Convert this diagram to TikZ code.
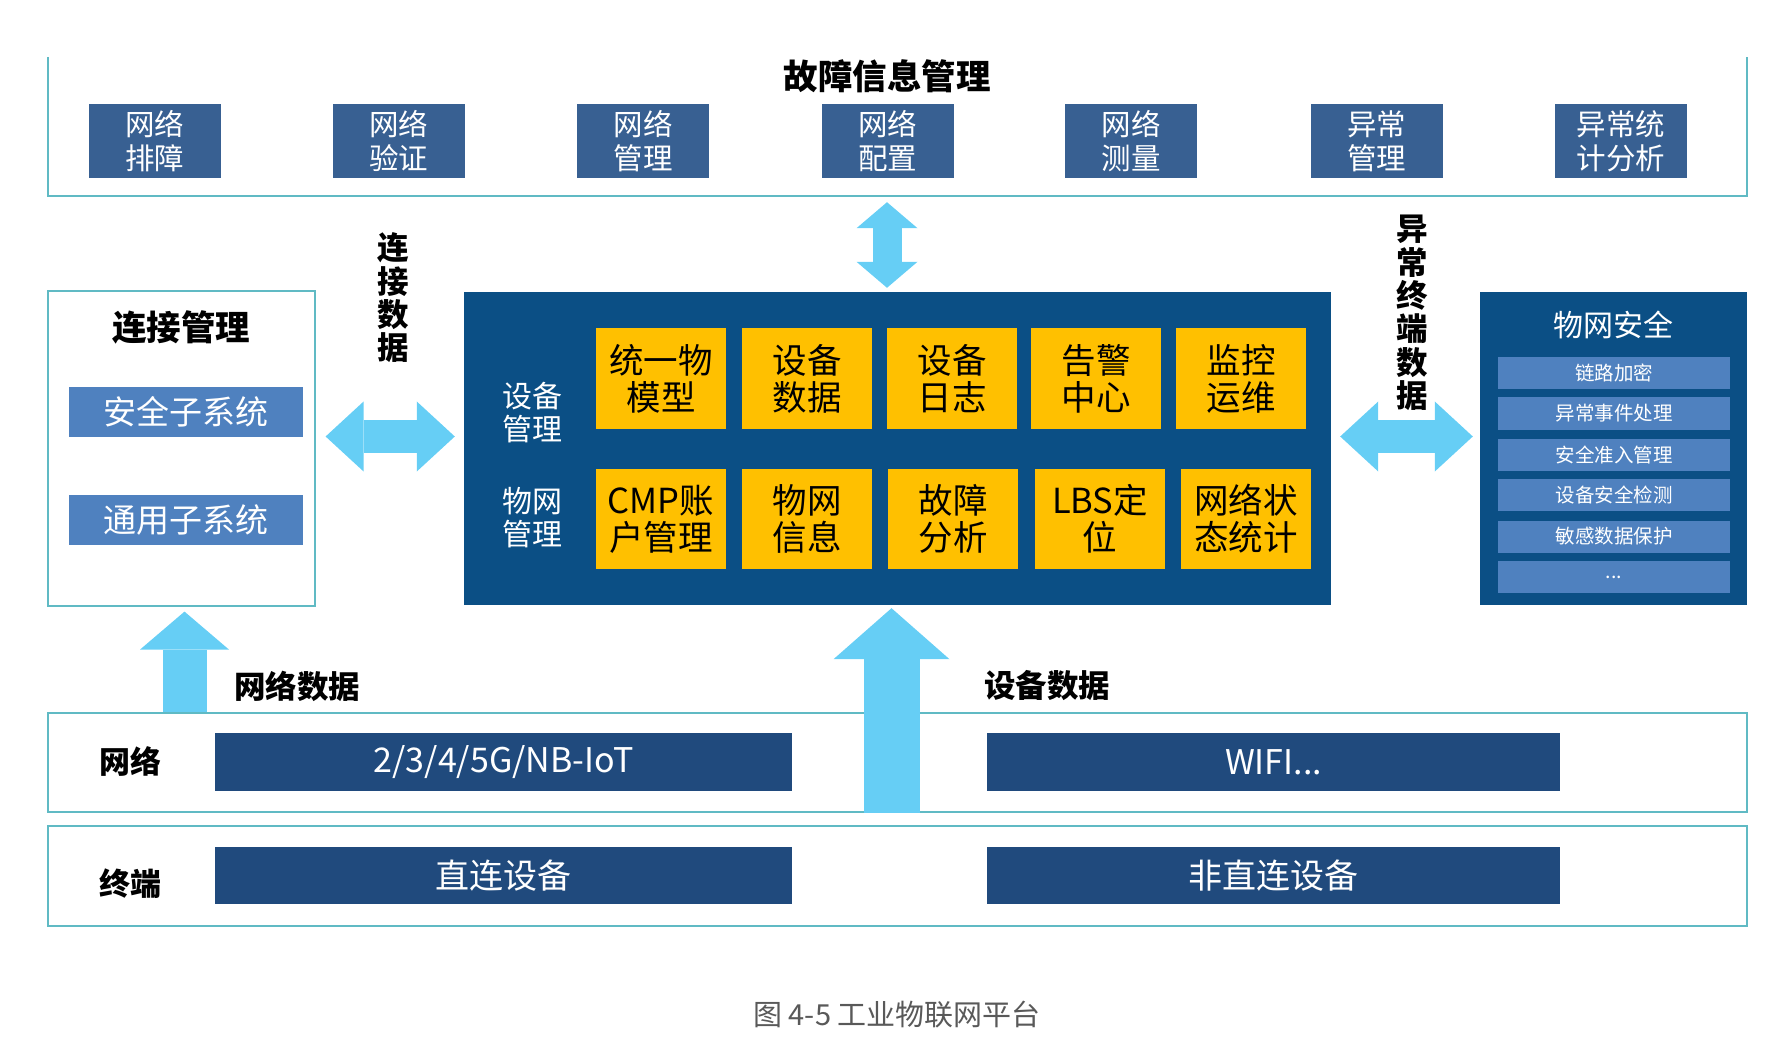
\documentclass[tikz,border=0pt]{standalone}
\usepackage{fontspec}
\setmainfont{Noto Sans CJK SC}
\usepackage{xcolor}
\usepackage{tikz}
\usetikzlibrary{arrows.meta,positioning}

\definecolor{framecyan}{RGB}{96,186,196}
\definecolor{flowblue}{RGB}{102,206,245}
\definecolor{coreblue}{RGB}{11,79,133}
\definecolor{tileblue}{RGB}{56,96,146}
\definecolor{subblue}{RGB}{79,129,191}
\definecolor{barblue}{RGB}{32,74,125}
\definecolor{tileyellow}{RGB}{255,192,0}
\definecolor{captiongray}{RGB}{89,89,89}

\newcommand{\fsz}[2]{\fontsize{#1}{#2}\selectfont}

\begin{document}
\begin{tikzpicture}[x=1pt, y=-1pt,
    frame/.style={draw=framecyan, line width=1.8pt},
    tile/.style={fill=tileblue, text=white, minimum width=132pt, minimum height=74pt, inner sep=0pt, align=center, font=\fsz{29.5}{34}},
    core/.style={fill=coreblue, inner sep=0pt},
    ytile/.style={fill=tileyellow, minimum width=130pt, minimum height=100pt, inner sep=0pt, align=center, font=\fsz{34.5}{37}},
    subbox/.style={fill=subblue, text=white, minimum width=234pt, minimum height=50pt, inner sep=0pt, font=\fsz{33}{36}},
    secitem/.style={fill=subblue, text=white, minimum width=232pt, minimum height=32pt, inner sep=0pt, font=\fsz{19.5}{22}},
    bar/.style={fill=barblue, text=white, minimum height=58pt, inner sep=0pt, font=\fsz{34}{38}},
    head/.style={font=\bfseries\fsz{31.5}{33.3}, align=center, inner sep=0pt},
    flowlr/.style={line width=33pt, flowblue, {Triangle[width=70pt,length=38pt,line width=0pt]}-{Triangle[width=70pt,length=38pt,line width=0pt]}},
    flowud/.style={line width=29pt, flowblue, {Triangle[width=61pt,length=26pt,line width=0pt]}-{Triangle[width=61pt,length=26pt,line width=0pt]}},
]
    \useasboundingbox (0,0) rectangle (1775,1048);

    % Fault management layer (open at the top)
    \node[minimum width=1699pt, minimum height=139pt, inner sep=0pt] (fault) at (897.5,126.5) {};
    \draw[frame] (fault.north west) |- (fault.south east) -- (fault.north east);
    \node[font=\bfseries\fsz{34.5}{38}] (title) at (887,76) {故障信息管理};
    \node[tile] (f1) at (154.5,141) {网络\\排障};
    \node[tile] (f2) at (398.5,141) {网络\\验证};
    \node[tile] (f3) at (643,141) {网络\\管理};
    \node[tile] (f4) at (887.5,141) {网络\\配置};
    \node[tile] (f5) at (1131,141) {网络\\测量};
    \node[tile] (f6) at (1376.5,141) {异常\\管理};
    \node[tile] (f7) at (1621,141) {异常统\\计分析};

    % Connection management
    \node[draw=framecyan, line width=1.2pt, minimum width=267pt, minimum height=315pt, inner sep=0pt] (conn) at (181.5,448.5) {};
    \node[font=\bfseries\fsz{34.5}{38}] (conntitle) at (181,327) {连接管理};
    \node[subbox] (safe) at (186,412) {安全子系统};
    \node[subbox] (general) at (186,520) {通用子系统};

    % Platform core
    \node[core, minimum width=867pt, minimum height=313pt] (core) at (897.5,448.5) {};
    \node[text=white, font=\fsz{30}{33}, align=center] (devmgmt) at (532,413) {设备\\管理};
    \node[text=white, font=\fsz{30}{33}, align=center] (netmgmt) at (532,518) {物网\\管理};
    \node[ytile] (d1) at (661,378.5) {统一物\\模型};
    \node[ytile] (d2) at (807,378.5) {设备\\数据};
    \node[ytile] (d3) at (952,378.5) {设备\\日志};
    \node[ytile] (d4) at (1096,378.5) {告警\\中心};
    \node[ytile] (d5) at (1241,378.5) {监控\\运维};
    \node[ytile] (n1) at (661,519) {CMP账\\户管理};
    \node[ytile] (n2) at (807,519) {物网\\信息};
    \node[ytile] (n3) at (953,519) {故障\\分析};
    \node[ytile] (n4) at (1100,519) {LBS定\\位};
    \node[ytile] (n5) at (1246,519) {网络状\\态统计};

    % IoT security
    \node[core, minimum width=267pt, minimum height=313pt] (secure) at (1613.5,448.5) {};
    \node[text=white, font=\fsz{30}{34}] (sectitle) at (1613,325) {物网安全};
    \node[secitem] (s1) at (1614,373) {链路加密};
    \node[secitem] (s2) at (1614,413.5) {异常事件处理};
    \node[secitem] (s3) at (1614,455) {安全准入管理};
    \node[secitem] (s4) at (1614,495) {设备安全检测};
    \node[secitem] (s5) at (1614,536.5) {敏感数据保护};
    \node[secitem] (s6) at (1614,577) {...};

    % Network and terminal layers
    \node[frame, minimum width=1699pt, minimum height=99pt, inner sep=0pt] (net) at (897.5,762.5) {};
    \node[frame, minimum width=1699pt, minimum height=100pt, inner sep=0pt] (term) at (897.5,876) {};
    \node[head, font=\bfseries\fsz{31}{34}] (netlabel) at (130,761) {网络};
    \node[head, font=\bfseries\fsz{31}{34}] (termlabel) at (130,884) {终端};
    \node[bar, minimum width=577pt] (cellular) at (503.5,762) {2/3/4/5G/NB-IoT};
    \node[bar, minimum width=573pt] (wifi) at (1273.5,762) {WIFI...};
    \node[bar, minimum width=577pt, minimum height=57pt] (direct) at (503.5,875.5) {直连设备};
    \node[bar, minimum width=573pt, minimum height=57pt] (indirect) at (1273.5,875.5) {非直连设备};

    % Data flows
    \coordinate (faultout) at (title |- fault.south);
    \coordinate (corein) at (title |- core.north);
    \draw[flowud] ([yshift=-6pt]faultout) -- ([yshift=4pt]corein);
    \draw[flowlr] ([xshift=10pt,yshift=12pt]conn.east) -- ([xshift=-9pt,yshift=12pt]core.west);
    \draw[flowlr] ([xshift=9pt,yshift=12pt]core.east) -- ([xshift=-7pt,yshift=12pt]secure.west);
    \coordinate (netfoot) at (conn.south |- net.north);
    \draw[line width=44pt, flowblue, -{Triangle[width=89pt,length=38pt,line width=0pt]}]
        ([xshift=3pt]netfoot) -- ([xshift=3pt,yshift=-5pt]conn.south);
    \coordinate (termtop) at (core.south |- net.south);
    \draw[line width=56pt, flowblue, -{Triangle[width=116pt,length=51pt,line width=0pt]}]
        ([xshift=-6pt]termtop) -- ([xshift=-6pt,yshift=-3pt]core.south);

    % Flow labels
    \node[head] (linkdata) at (393,298) {连\\接\\数\\据};
    \node[head] (alarmdata) at (1412,313) {异\\常\\终\\端\\数\\据};
    \node[head] (netdata) at (297,686) {网络数据};
    \node[head] (devdata) at (1047,686) {设备数据};

    % Caption
    \node[text=captiongray, font=\fsz{29}{32}] (caption) at (897,1015) {图 4-5 工业物联网平台};
\end{tikzpicture}
\end{document}
